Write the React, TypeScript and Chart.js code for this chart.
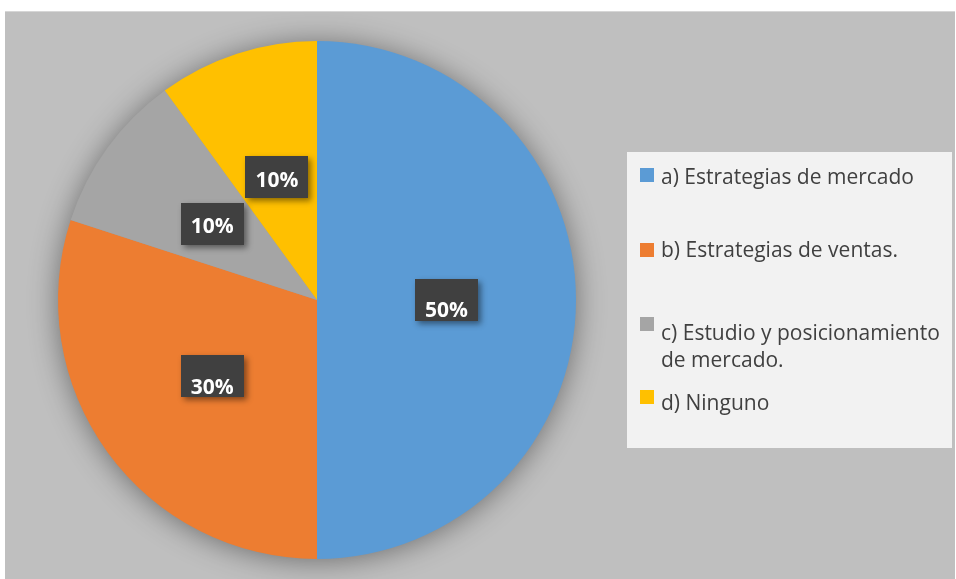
import { useEffect, useRef } from "react";
import { Chart, registerables } from "chart.js";

Chart.register(...registerables);

const categories = [
  "a) Estrategias de mercado",
  "b) Estrategias de ventas.",
  "c) Estudio y posicionamiento de mercado.",
  "d) Ninguno",
];
const percentages = [50, 30, 10, 10];
const valueLabels = ["50%", "30%", "10%", "10%"];
const sliceColors = ["#5b9bd5", "#ed7d31", "#a5a5a5", "#ffc000"];

// styling / layout (not data)
const labelTextDy = [17, 18, 9, 10];
const legendMarkerTops = [168, 243, 317, 390];
const legendBaselines = [184, 257, 340, 410];

const W = 956;
const H = 579;

function wrapText(ctx: CanvasRenderingContext2D, text: string, maxW: number): string[] {
  const words = text.split(" ");
  const lines: string[] = [];
  let cur = "";
  for (const w of words) {
    const t = cur ? cur + " " + w : w;
    if (ctx.measureText(t).width > maxW && cur) {
      lines.push(cur);
      cur = w;
    } else cur = t;
  }
  if (cur) lines.push(cur);
  return lines;
}

const backgroundPlugin = {
  id: "bgPlugin",
  beforeDraw(chart: any) {
    const ctx = chart.ctx as CanvasRenderingContext2D;
    ctx.save();
    ctx.fillStyle = "#ffffff";
    ctx.fillRect(0, 0, W, H);
    ctx.fillStyle = "#bfbfbf";
    ctx.fillRect(5, 11, W - 6, H - 11);
    ctx.strokeStyle = "#d6d6d6";
    ctx.lineWidth = 1;
    ctx.beginPath();
    ctx.moveTo(5, 11.5);
    ctx.lineTo(955, 11.5);
    ctx.stroke();
    // legend box
    ctx.fillStyle = "#f2f2f2";
    ctx.fillRect(627, 152, 325, 296);
    ctx.restore();
  },
  beforeDatasetsDraw(chart: any) {
    const meta = chart.getDatasetMeta(0);
    const arc = meta.data[0];
    if (!arc) return;
    const ctx = chart.ctx as CanvasRenderingContext2D;
    ctx.save();
    ctx.shadowColor = "rgba(0,0,0,0.45)";
    ctx.shadowBlur = 30;
    ctx.shadowOffsetX = 0;
    ctx.shadowOffsetY = 2;
    ctx.fillStyle = "#9a9a9a";
    ctx.beginPath();
    ctx.arc(arc.x, arc.y, arc.outerRadius - 1, 0, Math.PI * 2);
    ctx.fill();
    ctx.restore();
  },
  afterDatasetsDraw(chart: any) {
    const meta = chart.getDatasetMeta(0);
    const ctx = chart.ctx as CanvasRenderingContext2D;
    meta.data.forEach((arc: any, i: number) => {
      const p = arc.tooltipPosition();
      const bw = 63;
      const bh = 42;
      ctx.save();
      ctx.shadowColor = "rgba(0,0,0,0.45)";
      ctx.shadowBlur = 6;
      ctx.shadowOffsetX = 3;
      ctx.shadowOffsetY = 3;
      ctx.fillStyle = "#404040";
      ctx.fillRect(Math.round(p.x - bw / 2), Math.round(p.y - bh / 2), bw, bh);
      ctx.restore();
      ctx.save();
      ctx.fillStyle = "#ffffff";
      ctx.font = "bold 21px 'Open Sans'";
      ctx.textAlign = "center";
      ctx.textBaseline = "alphabetic";
      ctx.fillText(valueLabels[i], p.x, p.y + labelTextDy[i]);
      ctx.restore();
    });
  },
  afterDraw(chart: any) {
    const ctx = chart.ctx as CanvasRenderingContext2D;
    const labels = chart.data.labels as string[];
    const colors = chart.data.datasets[0].backgroundColor as string[];
    ctx.save();
    ctx.font = "21px 'Open Sans'";
    ctx.textBaseline = "alphabetic";
    ctx.textAlign = "left";
    labels.forEach((lab, i) => {
      ctx.fillStyle = colors[i];
      ctx.fillRect(640, legendMarkerTops[i], 14, 14);
      ctx.fillStyle = "#404040";
      const lines = wrapText(ctx, lab, 285);
      lines.forEach((ln, k) => {
        ctx.fillText(ln, 661, legendBaselines[i] + k * 27);
      });
    });
    ctx.restore();
  },
};

export default function App() {
  const ref = useRef<HTMLCanvasElement | null>(null);
  useEffect(() => {
    document.body.style.margin = "0";
    const canvas = ref.current;
    if (!canvas) return;
    const chart = new Chart(canvas, {
      type: "pie",
      data: {
        labels: categories,
        datasets: [
          {
            data: percentages,
            backgroundColor: sliceColors,
            borderWidth: 0,
            hoverOffset: 0,
          },
        ],
      },
      options: {
        animation: false,
        responsive: false,
        devicePixelRatio: 1,
        layout: { padding: { left: 58, top: 41, right: 380, bottom: 20 } },
        plugins: {
          legend: { display: false },
          tooltip: { enabled: false },
        },
        events: [],
      },
      plugins: [backgroundPlugin],
    });
    return () => chart.destroy();
  }, []);
  return (
    <div style={{ width: W, height: H }}>
      <canvas ref={ref} width={W} height={H} style={{ display: "block", width: W, height: H }} />
    </div>
  );
}
